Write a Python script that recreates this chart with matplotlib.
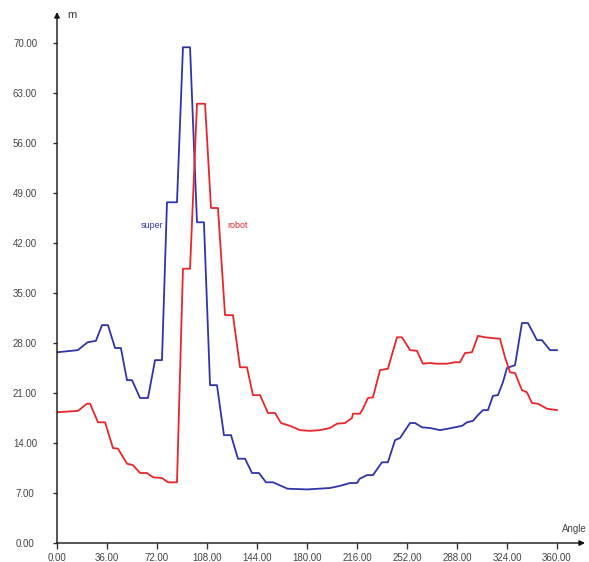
import matplotlib
matplotlib.use("Agg")
import matplotlib.pyplot as plt
import numpy as np

# curve vertices (angle in degrees, value in m)
super_angle = [0, 15, 22, 28, 32.4, 36.7, 41.8, 46, 50.4, 54, 59.8, 65.5, 70.6, 75.6,
               79.2, 86.4, 90.7, 95.8, 100.8, 105.8, 110.2, 115.2, 120.2, 125.3,
               130.3, 135.4, 140.4, 145.4, 150.5, 155.5, 166, 180, 196.6, 203.8,
               211, 216, 218, 223.2, 227.5, 234, 238.3, 243.4, 247, 254.2, 257.8,
               262.8, 268.6, 275.8, 281.5, 286.6, 291.6, 295.2, 299.5, 303.1, 306.7,
               310.3, 313.9, 317.5, 321.1, 324, 329.8, 334.8, 339.1, 345.6, 349.2,
               355, 360]
super_m = [26.7, 27.0, 28.1, 28.3, 30.5, 30.5, 27.3, 27.3, 22.8, 22.8, 20.3, 20.3, 25.6, 25.6,
           47.7, 47.7, 69.4, 69.4, 44.9, 44.9, 22.1, 22.1, 15.1, 15.1,
           11.8, 11.8, 9.8, 9.8, 8.5, 8.5, 7.6, 7.5, 7.7, 8.0,
           8.4, 8.4, 9.0, 9.5, 9.5, 11.3, 11.3, 14.4, 14.7, 16.8, 16.8,
           16.2, 16.1, 15.8, 16.0, 16.2, 16.4, 16.9, 17.1, 17.9, 18.6,
           18.6, 20.6, 20.7, 22.5, 24.5, 24.9, 30.8, 30.8, 28.4, 28.4,
           27.0, 27.0]

robot_angle = [0, 15.1, 21.6, 23.8, 29.5, 34.6, 40.3, 43.9, 50.4, 54.7, 59.8, 64.8, 69.1, 75.6,
               79.9, 86.4, 90.7, 95.8, 100.8, 106.6, 110.9, 115.9, 121, 126.7, 131.8,
               136.8, 141.1, 146.2, 151.9, 157, 161.3, 167.8, 175, 182.2, 189.4, 196.6,
               201.6, 207.4, 212.4, 213.1, 218.2, 220.3, 223.9, 227.5, 232.6, 238.3,
               244.8, 248.4, 254.2, 259.2, 263.5, 268.6, 273.6, 280.8, 286.6, 290.2,
               293.8, 298.8, 303.1, 308.2, 313.2, 319, 322.6, 326.2, 329.8, 334.8,
               338.4, 342, 346.3, 352.8, 360]
robot_m = [18.3, 18.5, 19.5, 19.5, 16.9, 16.9, 13.3, 13.2, 11.1, 10.9, 9.8, 9.8, 9.2, 9.1,
           8.5, 8.5, 38.4, 38.4, 61.5, 61.5, 46.9, 46.9, 31.9, 31.9, 24.6,
           24.6, 20.7, 20.7, 18.2, 18.2, 16.8, 16.4, 15.8, 15.7, 15.8, 16.1,
           16.7, 16.8, 17.5, 18.1, 18.1, 18.8, 20.3, 20.4, 24.2, 24.4,
           28.8, 28.8, 27.0, 26.9, 25.1, 25.2, 25.1, 25.1, 25.3, 25.3,
           26.6, 26.7, 29.0, 28.8, 28.7, 28.6, 26.0, 23.9, 23.8, 21.4,
           21.1, 19.6, 19.5, 18.8, 18.6]

x_ticks = np.arange(0, 361, 36)
y_ticks = np.arange(0, 71, 7)

W, H = 589, 562
fig = plt.figure(figsize=(W/100, H/100), dpi=100)
ax = fig.add_axes([57/W, 19/H, 528/W, 531/H])

ax.plot(super_angle, super_m, color="#2f35a8", lw=1.3)
ax.plot(robot_angle, robot_m, color="#e8262b", lw=1.3)

ax.set_xlim(0, 380.2)
ax.set_ylim(0, 74.34)

for s in ["top", "right", "left", "bottom"]:
    ax.spines[s].set_visible(False)

# axis lines with arrow heads
ax.annotate("", xy=(1, 0), xytext=(0, 0), xycoords="axes fraction",
            arrowprops=dict(arrowstyle="-|>", color="#111111", lw=1.0,
                            mutation_scale=8, shrinkA=0, shrinkB=0))
ax.annotate("", xy=(0, 1), xytext=(0, 0), xycoords="axes fraction",
            arrowprops=dict(arrowstyle="-|>", color="#111111", lw=1.0,
                            mutation_scale=8, shrinkA=0, shrinkB=0))

ax.set_xticks(x_ticks)
ax.set_xticklabels(["%.2f" % v for v in x_ticks])
ax.set_yticks(y_ticks)
ax.set_yticklabels(["%.2f" % v for v in y_ticks])
ax.tick_params(axis="x", length=4, width=1, color="#333333", pad=3,
               labelsize=7, labelcolor="#444444")
ax.tick_params(axis="y", length=3, width=1, color="#333333", pad=20,
               labelsize=7, labelcolor="#444444")
for lab in ax.get_xticklabels() + ax.get_yticklabels():
    lab.set_family("Liberation Sans")
for lab in ax.get_yticklabels():
    lab.set_horizontalalignment("center")

fig.text(67/W, 1 - 15/H, "m", fontsize=8, color="#333333",
         family="Liberation Sans", va="center", ha="left")
fig.text(562/W, 1 - 529/H, "Angle", fontsize=7, color="#444444",
         family="Liberation Sans", va="center", ha="left")

ax.text(60, 44.5, "super", fontsize=6.5, color="#2f35a8",
        family="Liberation Sans", va="center", ha="left")
ax.text(122.5, 44.5, "robot", fontsize=6.5, color="#e8262b",
        family="Liberation Sans", va="center", ha="left")

fig.savefig("out.png", dpi=100)
